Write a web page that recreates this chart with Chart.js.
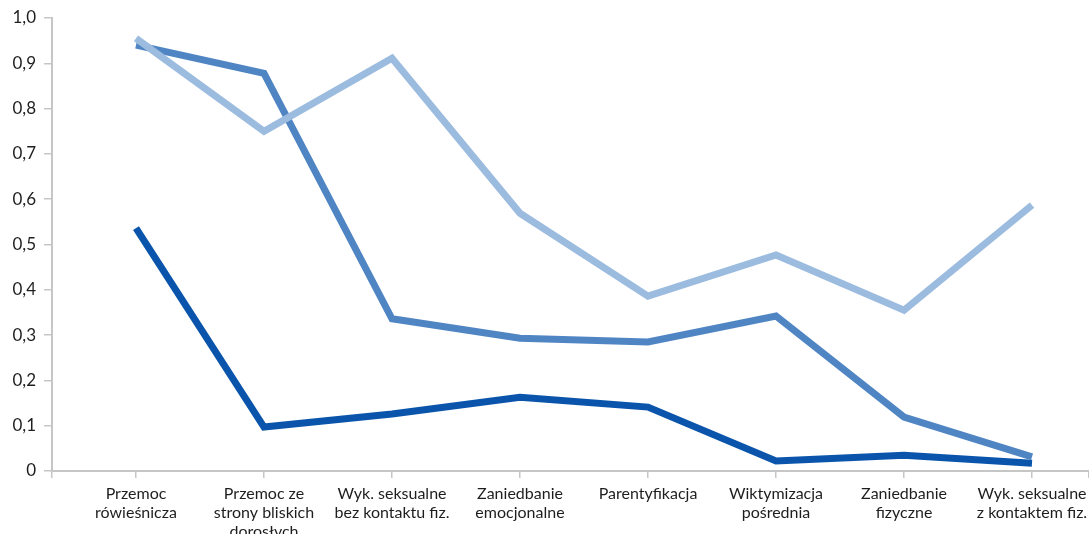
<!DOCTYPE html>
<html>
<head>
<meta charset="utf-8">
<script src="https://cdn.jsdelivr.net/npm/chart.js@4.4.1/dist/chart.umd.min.js"></script>
<style>
  html, body { margin: 0; padding: 0; background: #ffffff; }
  #wrap { width: 1089px; height: 534px; }
</style>
</head>
<body>
<div id="wrap"><canvas id="c" width="1089" height="534"></canvas></div>
<script>
const categories = [
  ["Przemoc", "rówieśnicza"],
  ["Przemoc ze", "strony bliskich", "dorosłych"],
  ["Wyk. seksualne", "bez kontaktu fiz."],
  ["Zaniedbanie", "emocjonalne"],
  ["Parentyfikacja"],
  ["Wiktymizacja", "pośrednia"],
  ["Zaniedbanie", "fizyczne"],
  ["Wyk. seksualne", "z kontaktem fiz."]
];
const seriesDark   = [0.536, 0.097, 0.126, 0.163, 0.141, 0.022, 0.035, 0.017];
const seriesMedium = [0.940, 0.878, 0.336, 0.293, 0.285, 0.342, 0.119, 0.031];
const seriesLight  = [0.955, 0.750, 0.911, 0.569, 0.386, 0.477, 0.355, 0.587];
const yTickLabels = ["0", "0,1", "0,2", "0,3", "0,4", "0,5", "0,6", "0,7", "0,8", "0,9", "1,0"];

const toPoints = arr => arr.map((v, i) => ({ x: i, y: v }));
const lineStyle = {
  borderWidth: 7, pointRadius: 0, pointHoverRadius: 0, tension: 0,
  borderCapStyle: 'butt', borderJoinStyle: 'miter', fill: false, clip: false
};

new Chart(document.getElementById('c'), {
  type: 'line',
  data: {
    datasets: [
      Object.assign({ label: 'A', data: toPoints(seriesLight), borderColor: '#9bbbdf', order: 0 }, lineStyle),
      Object.assign({ label: 'B', data: toPoints(seriesMedium), borderColor: '#5085c4', order: 1 }, lineStyle),
      Object.assign({ label: 'C', data: toPoints(seriesDark), borderColor: '#0a55ab', order: 2 }, lineStyle)
    ]
  },
  options: {
    responsive: false,
    animation: false,
    events: [],
    layout: { padding: { top: 18, right: 0, left: 0, bottom: 0 } },
    plugins: { legend: { display: false }, tooltip: { enabled: false } },
    scales: {
      x: {
        type: 'linear',
        min: -84 / 128,
        max: 7 + 57 / 128,
        afterBuildTicks: s => {
          s.ticks = [{ value: s.min }]
            .concat(categories.map((_, i) => ({ value: i })))
            .concat([{ value: s.max }]);
        },
        afterFit: s => { s.height = 63; s.paddingLeft = 0; s.paddingRight = 0; },
        grid: { drawOnChartArea: false, drawTicks: true, tickLength: 7, color: '#c6c6c6', lineWidth: 1.5 },
        border: { color: '#c6c6c6', width: 2 },
        ticks: {
          autoSkip: false,
          maxRotation: 0,
          minRotation: 0,
          padding: 6,
          color: '#1e1e1e',
          font: { family: 'Lato', size: 16, lineHeight: 1.2 },
          callback: v => (Number.isInteger(v) && v >= 0 && v < categories.length) ? categories[v] : ''
        }
      },
      y: {
        min: 0,
        max: 1,
        afterFit: s => { s.width = 52; s.paddingTop = 0; s.paddingBottom = 0; },
        grid: { drawOnChartArea: false, drawTicks: true, tickLength: 8, color: '#c6c6c6', lineWidth: 1.5 },
        border: { color: '#c6c6c6', width: 2 },
        ticks: {
          stepSize: 0.1,
          padding: 8,
          color: '#1e1e1e',
          font: { family: 'Lato', size: 17 },
          callback: (v, i) => yTickLabels[Math.round(v * 10)]
        }
      }
    }
  }
});
</script>
</body>
</html>
